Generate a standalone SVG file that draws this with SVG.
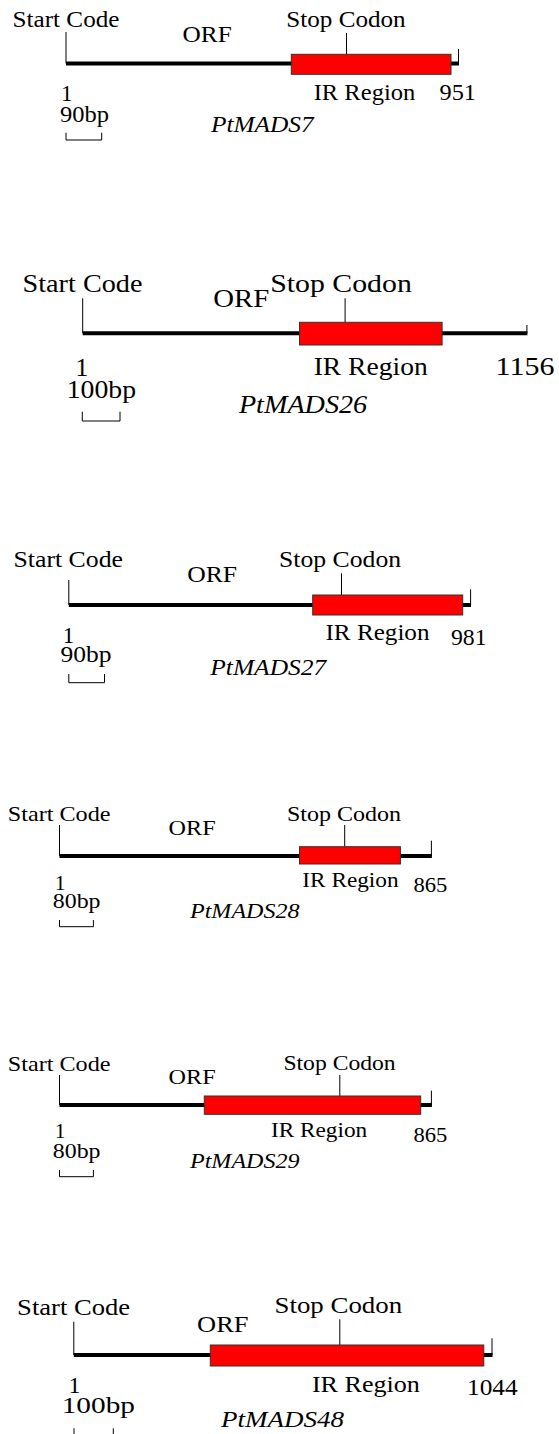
<svg xmlns="http://www.w3.org/2000/svg" width="559" height="1434" viewBox="0 0 559 1434">
<style>
.t{font-family:"Liberation Serif","Times New Roman",serif;fill:#000}
.i{font-style:italic}
.bb{stroke:#000;stroke-width:4;fill:none}
.tk{stroke:#000;stroke-width:1;fill:none}
.ir{fill:#ff0000;stroke:#333;stroke-width:1}
</style>
<rect width="559" height="1434" fill="#fff"/>

<g id="PtMADS7" font-size="23">
  <text class="t" x="12.5" y="27" textLength="107" lengthAdjust="spacingAndGlyphs">Start Code</text>
  <text class="t" x="182.5" y="42" textLength="49.2" lengthAdjust="spacingAndGlyphs">ORF</text>
  <text class="t" x="286.3" y="27" textLength="119.4" lengthAdjust="spacingAndGlyphs">Stop Codon</text>
  <line class="tk" x1="66" y1="32" x2="66" y2="63.5"/>
  <line class="bb" x1="66" y1="63.5" x2="459" y2="63.5"/>
  <line class="tk" x1="458.5" y1="49" x2="458.5" y2="63.5"/>
  <line class="tk" x1="346.5" y1="33" x2="346.5" y2="54.3"/>
  <rect class="ir" x="291.3" y="54.3" width="159.7" height="20"/>
  <text class="t" x="61" y="101">1</text>
  <text class="t" x="313.7" y="100" textLength="101.6" lengthAdjust="spacingAndGlyphs">IR Region</text>
  <text class="t" x="439.6" y="100" textLength="36.4" lengthAdjust="spacingAndGlyphs">951</text>
  <text class="t" x="60" y="121.7" textLength="49" lengthAdjust="spacingAndGlyphs">90bp</text>
  <text class="t i" x="211" y="131.7" textLength="102.7" lengthAdjust="spacingAndGlyphs">PtMADS7</text>
  <path class="tk" d="M66,132.7 V140 H101.7 V132.7"/>
</g>

<g id="PtMADS26" font-size="25.5">
  <text class="t" x="22.5" y="291.7" textLength="120" lengthAdjust="spacingAndGlyphs">Start Code</text>
  <text class="t" x="213.2" y="306.7" textLength="56" lengthAdjust="spacingAndGlyphs">ORF</text>
  <text class="t" x="270.2" y="291.7" textLength="141.6" lengthAdjust="spacingAndGlyphs">Stop Codon</text>
  <line class="tk" x1="82.7" y1="298.3" x2="82.7" y2="333.3"/>
  <line class="bb" x1="82.7" y1="333.3" x2="527.4" y2="333.3" stroke-width="5"/>
  <line class="tk" x1="526.9" y1="325" x2="526.9" y2="333.3"/>
  <line class="tk" x1="345.1" y1="298.3" x2="345.1" y2="322.3"/>
  <rect class="ir" x="299.5" y="322.3" width="142.6" height="22.7"/>
  <text class="t" x="75.5" y="375.5">1</text>
  <text class="t" x="313.7" y="375" textLength="114" lengthAdjust="spacingAndGlyphs">IR Region</text>
  <text class="t" x="495.5" y="375" textLength="58.9" lengthAdjust="spacingAndGlyphs">1156</text>
  <text class="t" x="66.7" y="397.7" textLength="69.3" lengthAdjust="spacingAndGlyphs">100bp</text>
  <text class="t i" x="238.9" y="413.3" textLength="128.3" lengthAdjust="spacingAndGlyphs">PtMADS26</text>
  <path class="tk" d="M82.3,411.7 V421 H120 V411.7"/>
</g>

<g id="PtMADS27" font-size="23">
  <text class="t" x="13.5" y="566.7" textLength="109.5" lengthAdjust="spacingAndGlyphs">Start Code</text>
  <text class="t" x="187.2" y="581.7" textLength="49.9" lengthAdjust="spacingAndGlyphs">ORF</text>
  <text class="t" x="279.1" y="566.7" textLength="122" lengthAdjust="spacingAndGlyphs">Stop Codon</text>
  <line class="tk" x1="68.8" y1="580" x2="68.8" y2="605"/>
  <line class="bb" x1="68.8" y1="605" x2="471" y2="605" stroke-width="4.5"/>
  <line class="tk" x1="470.6" y1="589.3" x2="470.6" y2="605"/>
  <line class="tk" x1="341.5" y1="573.3" x2="341.5" y2="595"/>
  <rect class="ir" x="312.7" y="595" width="150" height="20"/>
  <text class="t" x="62.7" y="643.3">1</text>
  <text class="t" x="325.5" y="640" textLength="104" lengthAdjust="spacingAndGlyphs">IR Region</text>
  <text class="t" x="451" y="645" textLength="35.6" lengthAdjust="spacingAndGlyphs">981</text>
  <text class="t" x="60.6" y="661.7" textLength="51" lengthAdjust="spacingAndGlyphs">90bp</text>
  <text class="t i" x="210.3" y="675" textLength="115.9" lengthAdjust="spacingAndGlyphs">PtMADS27</text>
  <path class="tk" d="M68.8,674 V682.7 H104.5 V674"/>
</g>

<g id="PtMADS28" font-size="21.5">
  <text class="t" x="7.8" y="820.7" textLength="102.7" lengthAdjust="spacingAndGlyphs">Start Code</text>
  <text class="t" x="168.6" y="835" textLength="47" lengthAdjust="spacingAndGlyphs">ORF</text>
  <text class="t" x="287" y="820.7" textLength="114" lengthAdjust="spacingAndGlyphs">Stop Codon</text>
  <line class="tk" x1="59.5" y1="825" x2="59.5" y2="856"/>
  <line class="bb" x1="59.5" y1="856" x2="431.9" y2="856"/>
  <line class="tk" x1="431.4" y1="840.7" x2="431.4" y2="856"/>
  <line class="tk" x1="344.7" y1="825" x2="344.7" y2="846.7"/>
  <rect class="ir" x="299.5" y="846.7" width="100.9" height="17.3"/>
  <text class="t" x="54.7" y="890">1</text>
  <text class="t" x="302.3" y="886.7" textLength="96.3" lengthAdjust="spacingAndGlyphs">IR Region</text>
  <text class="t" x="413.5" y="891.7" textLength="33.9" lengthAdjust="spacingAndGlyphs">865</text>
  <text class="t" x="52.8" y="908.3" textLength="47.7" lengthAdjust="spacingAndGlyphs">80bp</text>
  <text class="t i" x="190" y="918.3" textLength="109.5" lengthAdjust="spacingAndGlyphs">PtMADS28</text>
  <path class="tk" d="M59.5,920 V926.7 H93.4 V920"/>
</g>

<g id="PtMADS29" font-size="21.5">
  <text class="t" x="7.8" y="1070.7" textLength="102.7" lengthAdjust="spacingAndGlyphs">Start Code</text>
  <text class="t" x="168.6" y="1084.3" textLength="47" lengthAdjust="spacingAndGlyphs">ORF</text>
  <text class="t" x="283.4" y="1070" textLength="112.3" lengthAdjust="spacingAndGlyphs">Stop Codon</text>
  <line class="tk" x1="59.5" y1="1075" x2="59.5" y2="1105"/>
  <line class="bb" x1="59.5" y1="1105" x2="431.9" y2="1105"/>
  <line class="tk" x1="431.4" y1="1090.7" x2="431.4" y2="1105"/>
  <line class="tk" x1="339.8" y1="1075" x2="339.8" y2="1096"/>
  <rect class="ir" x="204.3" y="1096" width="216.4" height="18.3"/>
  <text class="t" x="54.7" y="1138.3">1</text>
  <text class="t" x="271" y="1136.7" textLength="96.2" lengthAdjust="spacingAndGlyphs">IR Region</text>
  <text class="t" x="413.5" y="1141.7" textLength="33.9" lengthAdjust="spacingAndGlyphs">865</text>
  <text class="t" x="52.8" y="1158.3" textLength="47.7" lengthAdjust="spacingAndGlyphs">80bp</text>
  <text class="t i" x="190" y="1168.3" textLength="109.5" lengthAdjust="spacingAndGlyphs">PtMADS29</text>
  <path class="tk" d="M59.5,1170 V1176.7 H93.4 V1170"/>
</g>

<g id="PtMADS48" font-size="24">
  <text class="t" x="17.1" y="1315" textLength="113" lengthAdjust="spacingAndGlyphs">Start Code</text>
  <text class="t" x="197.1" y="1331.7" textLength="51.4" lengthAdjust="spacingAndGlyphs">ORF</text>
  <text class="t" x="274.5" y="1313.3" textLength="127.6" lengthAdjust="spacingAndGlyphs">Stop Codon</text>
  <line class="tk" x1="73.8" y1="1321.7" x2="73.8" y2="1355"/>
  <line class="bb" x1="73.8" y1="1355" x2="492.5" y2="1355"/>
  <line class="tk" x1="492" y1="1338.3" x2="492" y2="1355"/>
  <line class="tk" x1="339.8" y1="1319.3" x2="339.8" y2="1345"/>
  <rect class="ir" x="210.3" y="1345" width="273.5" height="21"/>
  <text class="t" x="68.5" y="1393">1</text>
  <text class="t" x="311.9" y="1391.7" textLength="108" lengthAdjust="spacingAndGlyphs">IR Region</text>
  <text class="t" x="467" y="1395" textLength="50.6" lengthAdjust="spacingAndGlyphs">1044</text>
  <text class="t" x="61.7" y="1413.3" textLength="73.3" lengthAdjust="spacingAndGlyphs">100bp</text>
  <text class="t i" x="221" y="1426.7" textLength="123" lengthAdjust="spacingAndGlyphs">PtMADS48</text>
  <path class="tk" d="M74,1428.3 V1437 H113.3 V1428.3"/>
</g>
</svg>
